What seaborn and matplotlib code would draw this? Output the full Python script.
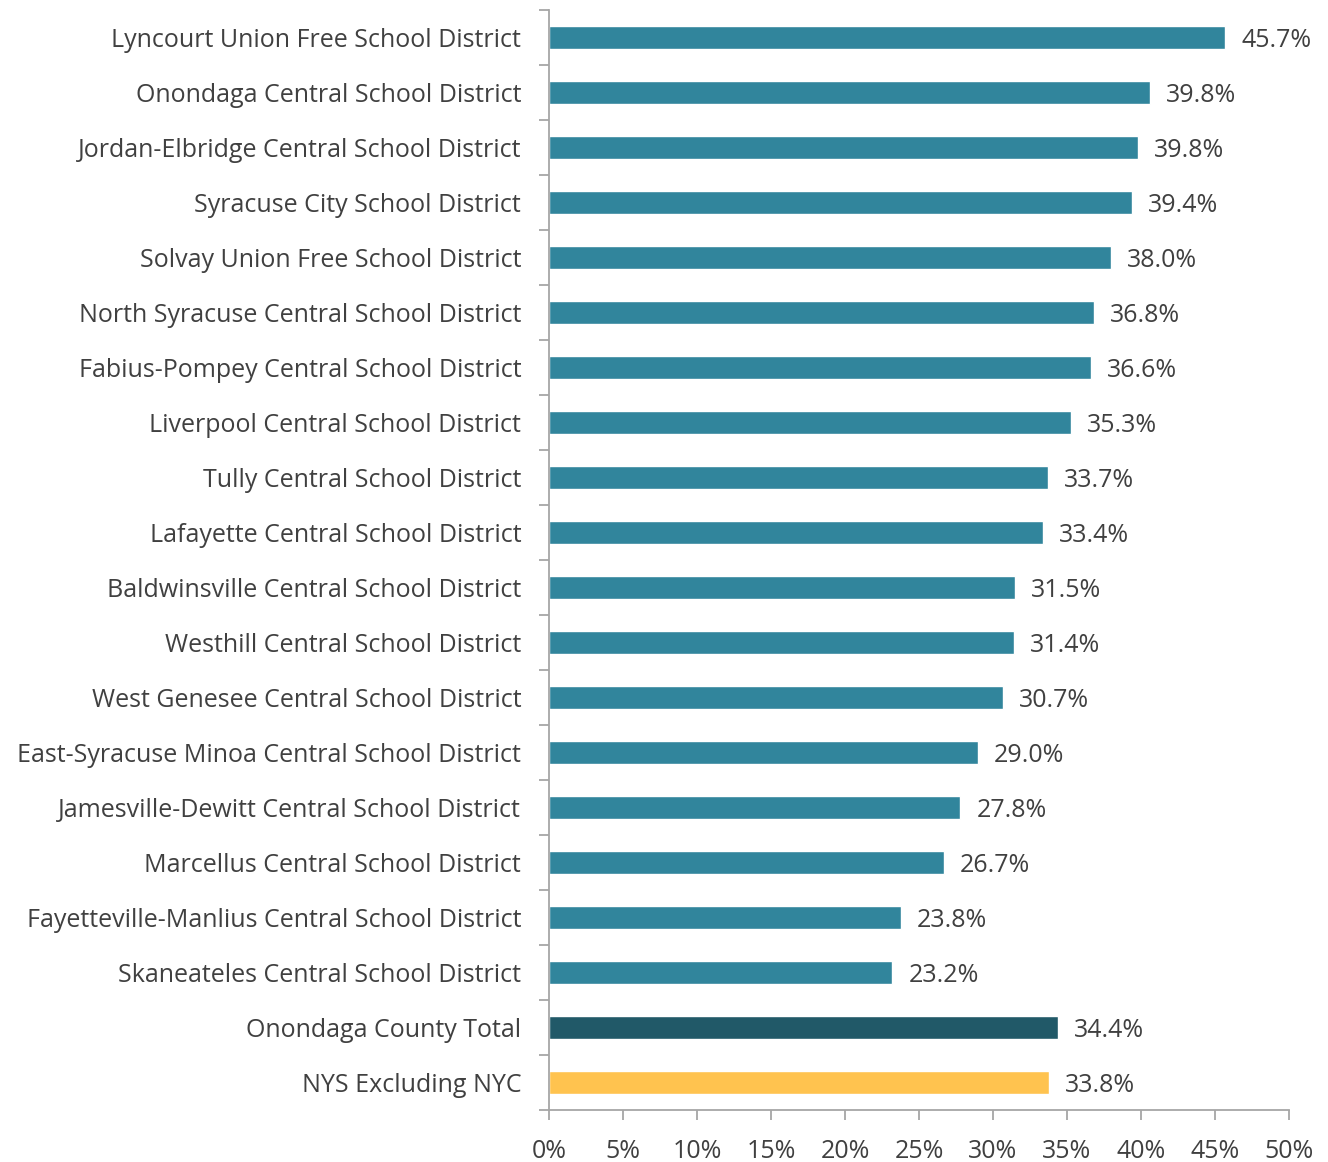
import numpy as np
import pandas as pd
import matplotlib
matplotlib.use("Agg")
import matplotlib.pyplot as plt
import seaborn as sns

# data
districts = [
    "Lyncourt Union Free School District",
    "Onondaga Central School District",
    "Jordan-Elbridge Central School District",
    "Syracuse City School District",
    "Solvay Union Free School District",
    "North Syracuse Central School District",
    "Fabius-Pompey Central School District",
    "Liverpool Central School District",
    "Tully Central School District",
    "Lafayette Central School District",
    "Baldwinsville Central School District",
    "Westhill Central School District",
    "West Genesee Central School District",
    "East-Syracuse Minoa Central School District",
    "Jamesville-Dewitt Central School District",
    "Marcellus Central School District",
    "Fayetteville-Manlius Central School District",
    "Skaneateles Central School District",
    "Onondaga County Total",
    "NYS Excluding NYC",
]
# bar lengths as drawn (the Onondaga bar is longer than its 39.8% label)
bar_pct = [45.7, 40.6, 39.8, 39.4, 38.0, 36.8, 36.6, 35.3, 33.7, 33.4,
           31.5, 31.4, 30.7, 29.0, 27.8, 26.7, 23.8, 23.2, 34.4, 33.8]
labels = ["45.7%", "39.8%", "39.8%", "39.4%", "38.0%", "36.8%", "36.6%",
          "35.3%", "33.7%", "33.4%", "31.5%", "31.4%", "30.7%", "29.0%",
          "27.8%", "26.7%", "23.8%", "23.2%", "34.4%", "33.8%"]
x_ticks = [0, 5, 10, 15, 20, 25, 30, 35, 40, 45, 50]

teal = "#31859C"
colors = [teal] * 18 + ["#215968", "#FFC34F"]

df = pd.DataFrame({"district": districts, "pct": bar_pct})

sns.set_style("white")
plt.rcParams["font.family"] = ["Open Sans", "DejaVu Sans"]
text_color = "#404040"
axis_color = "#A6A6A6"
fs = 18

fig = plt.figure(figsize=(13.28, 11.62), dpi=100)
ax = fig.add_axes([0.4134, 0.0448, 0.5572, 0.9466])

sns.barplot(data=df, x="pct", y="district", hue="district", palette=colors,
            width=0.42, legend=False, ax=ax, saturation=1)

for i, (v, lab) in enumerate(zip(bar_pct, labels)):
    ax.annotate(lab, xy=(v, i), xytext=(11.5, -2), textcoords="offset points",
                va="center", ha="left", fontsize=fs, color=text_color)

ax.set_xlim(0, 50)
ax.set_ylim(len(districts) - 0.5, -0.5)
ax.set_xticks(x_ticks)
ax.set_xticklabels([f"{t}%" for t in x_ticks], fontsize=fs, color=text_color)
ax.set_yticks(range(len(districts)))
ax.set_yticklabels(districts, fontsize=fs, color=text_color)
ax.set_yticks(np.arange(-0.5, len(districts), 1), minor=True)
ax.tick_params(axis="y", which="major", left=True, length=0, pad=20)
ax.tick_params(axis="y", which="minor", left=True, length=7, width=1.3,
               color=axis_color, direction="out")
ax.tick_params(axis="x", bottom=True, length=7, width=1.3, color=axis_color,
               direction="out", pad=14)
ax.set_xlabel("")
ax.set_ylabel("")

for s in ["top", "right"]:
    ax.spines[s].set_visible(False)
for s in ["left", "bottom"]:
    ax.spines[s].set_color(axis_color)
    ax.spines[s].set_linewidth(1.3)

fig.savefig("out.png", dpi=100)
